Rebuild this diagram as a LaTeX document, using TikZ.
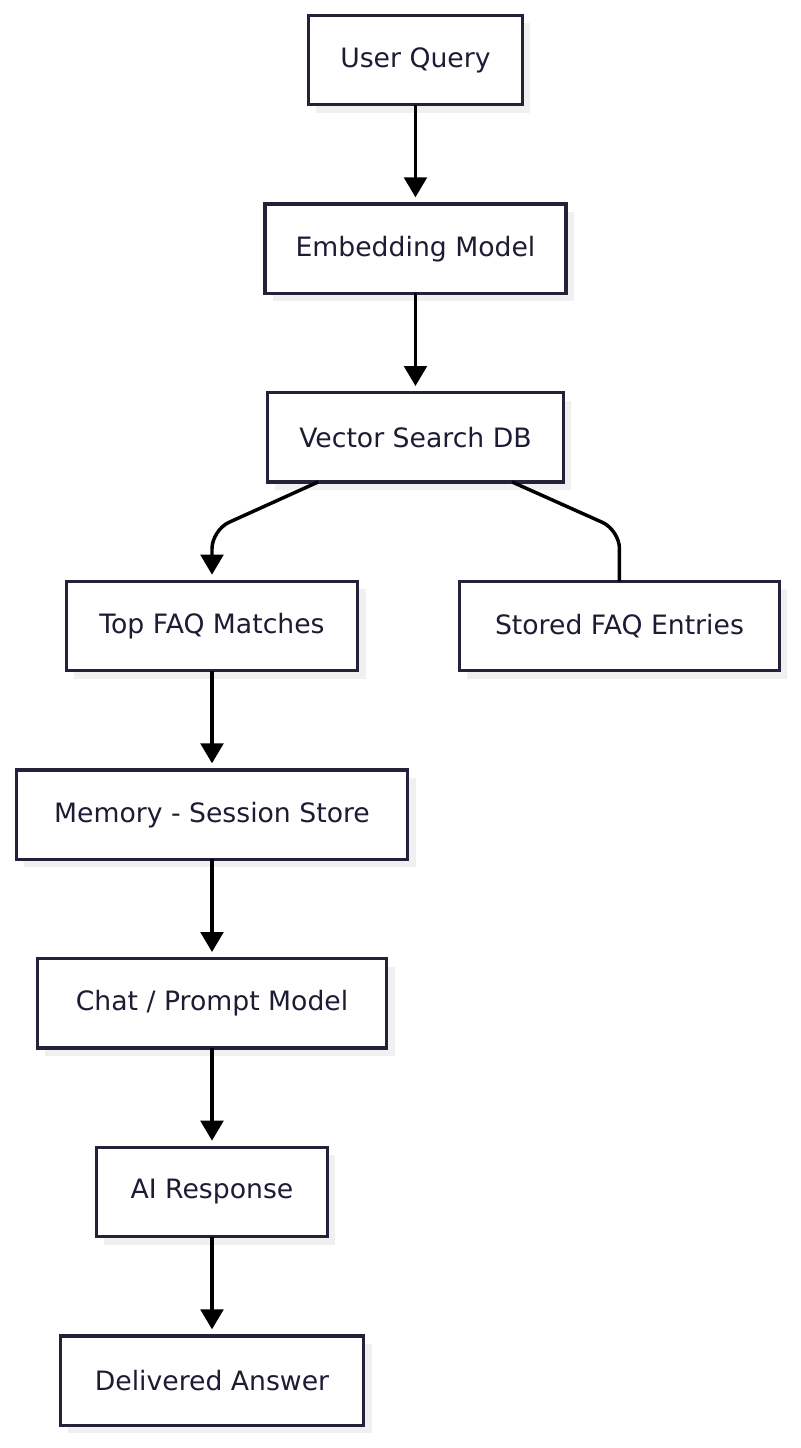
\documentclass[tikz,border=0pt]{standalone}
\usepackage{fontspec}
\setmainfont{DejaVu Sans}
\usepackage{xcolor}
\usepackage{tikz}
\usetikzlibrary{arrows.meta, positioning, shadows}
\definecolor{boxnavy}{RGB}{34, 34, 58}
\definecolor{textnavy}{RGB}{28, 28, 52}
\definecolor{shadowgray}{RGB}{240, 240, 240}

\begin{document}
\begin{tikzpicture}[
    node distance=74.5pt,
    stage/.style={rectangle, draw=boxnavy, line width=2.6pt, outer sep=0pt, fill=white, minimum height=67pt, align=center, text=textnavy, font=\fontsize{20}{24}\selectfont, general shadow={fill=shadowgray, shadow xshift=6pt, shadow yshift=-6pt}},
    flow/.style={-{Triangle[width=17pt, length=15pt]}, line width=2.6pt, black, shorten >=5pt},
    branch/.style={line width=2.6pt, black, rounded corners=14pt}
]
\useasboundingbox (-311.6pt,45pt) rectangle (288.4pt,-1041pt);

\node[stage, minimum width=160.5pt] (query) at (0,0) {User Query};
\node[stage, minimum width=225.75pt, below=of query] (embed) {Embedding Model};
\node[stage, minimum width=222pt, below=of embed] (vdb) {Vector Search DB};

\node[stage, minimum width=218.25pt, below=of vdb, xshift=-152.6pt] (topfaq) {Top FAQ Matches};
\node[stage, minimum width=240pt, below=of vdb, xshift=153pt] (stored) {Stored FAQ Entries};

\node[stage, minimum width=293.25pt, below=of topfaq] (memory) {Memory - Session Store};
\node[stage, minimum width=261.75pt, below=of memory] (chat) {Chat / Prompt Model};
\node[stage, minimum width=173.25pt, below=of chat] (airesp) {AI Response};
\node[stage, minimum width=227.25pt, below=of airesp] (answer) {Delivered Answer};

\draw[flow] (query) -- (embed);
\draw[flow] (embed) -- (vdb);

% split below the search db
\coordinate (leftbend) at (topfaq.north |- 0,-352.5pt);
\coordinate (rightbend) at (stored.north |- 0,-352.5pt);
\draw[branch, -{Triangle[width=17pt, length=15pt]}, shorten >=5pt] ([xshift=-73pt]vdb.south) -- (leftbend) -- (topfaq.north);
\draw[branch] ([xshift=72.5pt]vdb.south) -- (rightbend) -- (stored.north);

\draw[flow] (topfaq) -- (memory);
\draw[flow] (memory) -- (chat);
\draw[flow] (chat) -- (airesp);
\draw[flow] (airesp) -- (answer);
\end{tikzpicture}
\end{document}
